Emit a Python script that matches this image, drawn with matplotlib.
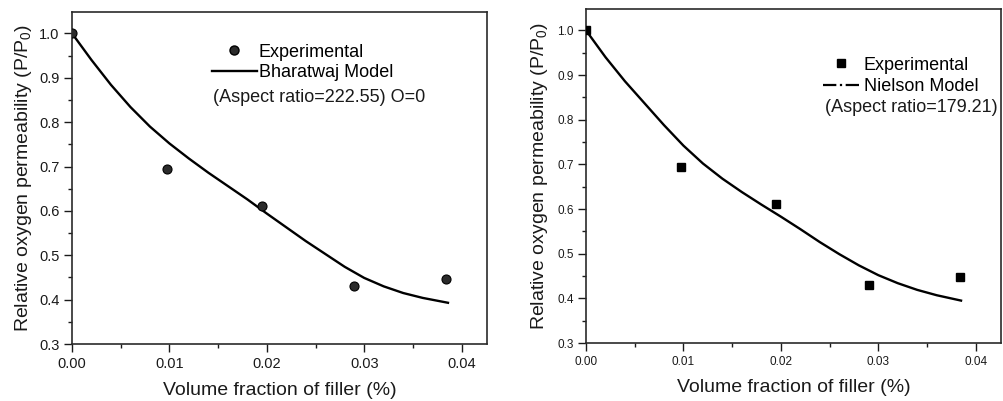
import matplotlib
matplotlib.use("Agg")
import matplotlib.pyplot as plt
from matplotlib.lines import Line2D
from matplotlib.ticker import MultipleLocator

plt.rcParams["font.family"] = ["Liberation Sans", "DejaVu Sans"]
plt.rcParams["mathtext.default"] = "regular"

# experimental points (same in both panels)
exp_x = [0.0, 0.0098, 0.0195, 0.0290, 0.0384]
exp_y = [1.0, 0.695, 0.611, 0.430, 0.447]

# Bharatwaj model curve (left panel)
bhar_x = [0.0, 0.002, 0.004, 0.006, 0.008, 0.010, 0.012, 0.014, 0.016, 0.018,
          0.020, 0.022, 0.024, 0.026, 0.028, 0.030, 0.032, 0.034, 0.036, 0.0386]
bhar_y = [1.000, 0.940, 0.884, 0.834, 0.790, 0.752, 0.718, 0.686, 0.656, 0.626,
          0.594, 0.563, 0.532, 0.503, 0.474, 0.449, 0.430, 0.415, 0.404, 0.393]

# Nielson model curve (right panel)
niel_x = [0.0, 0.002, 0.004, 0.006, 0.008, 0.010, 0.012, 0.014, 0.016, 0.018,
          0.020, 0.022, 0.024, 0.026, 0.028, 0.030, 0.032, 0.034, 0.036, 0.0385]
niel_y = [1.000, 0.940, 0.886, 0.837, 0.788, 0.742, 0.702, 0.668, 0.638, 0.610,
          0.583, 0.555, 0.526, 0.499, 0.474, 0.452, 0.434, 0.419, 0.407, 0.395]

x_ticks = [0.00, 0.01, 0.02, 0.03, 0.04]
y_ticks = [0.3, 0.4, 0.5, 0.6, 0.7, 0.8, 0.9, 1.0]

XLABEL = "Volume fraction of filler (%)"
YLABEL = "Relative oxygen permeability (P/P$_0$)"
INK = "#1a1a1a"


def style_axes(ax, tick_size):
    ax.set_xlim(0, 0.0426)
    ax.set_ylim(0.3, 1.048)
    ax.set_xticks(x_ticks)
    ax.set_yticks(y_ticks)
    ax.set_xticklabels([f"{v:.2f}" for v in x_ticks])
    ax.set_yticklabels([f"{v:.1f}" for v in y_ticks])
    ax.xaxis.set_minor_locator(MultipleLocator(0.005))
    ax.yaxis.set_minor_locator(MultipleLocator(0.05))
    ax.tick_params(which="major", direction="out", length=6, width=1.0,
                   labelsize=tick_size, colors=INK, pad=3)
    ax.tick_params(which="minor", direction="out", length=3, width=1.0, colors=INK)
    ax.tick_params(top=False, right=False)
    for sp in ax.spines.values():
        sp.set_linewidth(1.2)
        sp.set_color("#2a2a2a")


fig = plt.figure(figsize=(10.04, 4.01), dpi=100)
ax1 = fig.add_axes([0.0717, 0.142, 0.4133, 0.828])
ax2 = fig.add_axes([0.5837, 0.1446, 0.4133, 0.833])

# left panel
ax1.plot(bhar_x, bhar_y, color="black", lw=1.7, zorder=2)
ax1.plot(exp_x, exp_y, ls="none", marker="o", ms=6.5, mfc="#2b2b2b",
         mec="black", mew=0.8, zorder=3)
style_axes(ax1, 10.5)
ax1.set_xlabel(XLABEL, fontsize=14, color=INK, labelpad=8)
ax1.set_ylabel(YLABEL, fontsize=14, color=INK, labelpad=4)

h1 = [Line2D([], [], ls="none", marker="o", ms=6.5, mfc="#2b2b2b", mec="black"),
      Line2D([], [], color="black", lw=1.7)]
ax1.legend(h1, ["Experimental", "Bharatwaj Model"], loc="upper left",
           bbox_to_anchor=(0.337, 0.905), frameon=False, fontsize=13,
           handlelength=2.5, handletextpad=0.1, borderpad=0,
           borderaxespad=0, labelspacing=0.2)
ax1.text(0.34, 0.744, "(Aspect ratio=222.55) O=0", transform=ax1.transAxes,
         fontsize=13, va="center", ha="left", color=INK)

# right panel
ax2.plot(niel_x, niel_y, color="black", lw=1.7, zorder=2)
ax2.plot(exp_x, exp_y, ls="none", marker="s", ms=5.5, mfc="black",
         mec="black", zorder=3)
style_axes(ax2, 8.5)
ax2.set_xlabel(XLABEL, fontsize=14, color=INK, labelpad=8)
ax2.set_ylabel(YLABEL, fontsize=14, color=INK, labelpad=5)

h2 = [Line2D([], [], ls="none", marker="s", ms=5.5, mfc="black", mec="black"),
      Line2D([], [], color="black", lw=1.6, dashes=(6, 1.6, 1, 1.6))]
ax2.legend(h2, ["Experimental", "Nielson Model"], loc="upper left",
           bbox_to_anchor=(0.571, 0.857), frameon=False, fontsize=13,
           handlelength=2.05, handletextpad=0.2, borderpad=0,
           borderaxespad=0, labelspacing=0.25)
ax2.text(0.576, 0.7036, "(Aspect ratio=179.21)", transform=ax2.transAxes,
         fontsize=13, va="center", ha="left", color=INK)

fig.savefig("out.png", dpi=100)
